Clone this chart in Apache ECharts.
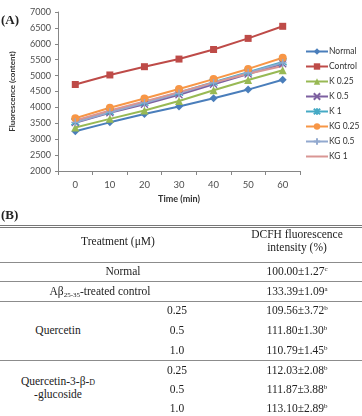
<!DOCTYPE html>
<html>
<head>
<meta charset="utf-8">
<script src="https://cdn.jsdelivr.net/npm/echarts@6/dist/echarts.min.js"></script>
<style>
body { margin: 0; width: 362px; height: 416px; position: relative; overflow: hidden; background: #fff; font-family: "Liberation Serif", serif; color: #222; }
#chart { position: absolute; left: 0; top: 0; width: 362px; height: 212px; }
.rule { position: absolute; left: 0; width: 362px; height: 0; border-top: 1px solid #8c8c8c; }
.t { position: absolute; white-space: nowrap; transform: translate(-50%, -50%); font-size: 11.5px; line-height: 12px; text-align: center; }
.t sup { font-size: 7px; line-height: 0; vertical-align: 4px; }
.t sub { font-size: 7px; line-height: 0; vertical-align: -2px; }
.lab { position: absolute; font-weight: bold; font-size: 13px; }
</style>
</head>
<body>
<div id="chart"></div>
<div id="table"></div>
<script>
// ---- chart (A) data ----
var times = ['0', '10', '20', '30', '40', '50', '60'];
var seriesNames = ['Normal', 'Control', 'K 0.25', 'K 0.5', 'K 1', 'KG 0.25', 'KG 0.5', 'KG 1'];
var normal  = [3250, 3530, 3790, 4030, 4290, 4560, 4870];
var control = [4720, 5020, 5280, 5520, 5820, 6170, 6550];
var k025    = [3370, 3640, 3900, 4200, 4540, 4860, 5170];
var k05     = [3520, 3830, 4100, 4400, 4730, 5050, 5370];
var k1      = [3550, 3870, 4160, 4470, 4790, 5110, 5430];
var kg025   = [3660, 3990, 4280, 4580, 4890, 5210, 5560];
var kg05    = [3530, 3850, 4140, 4440, 4770, 5090, 5400];
var kg1     = [3590, 3900, 4190, 4480, 4780, 5060, 5300];

// ---- table (B) data ----
var headTreatment = 'Treatment (μM)';
var headValue = ['DCFH fluorescence', 'intensity (%)'];
var groups = ['Normal', 'A&beta;<sub>25-35</sub>-treated control', 'Quercetin', 'Quercetin-3-&beta;-<span style="font-variant:small-caps">d</span><br>-glucoside'];
var concs = ['0.25', '0.5', '1.0'];
var intensity = ['100.00±1.27', '133.39±1.09', '109.56±3.72', '111.80±1.30', '110.79±1.45', '112.03±2.08', '111.87±3.88', '113.10±2.89'];
var letters = ['c', 'a', 'b', 'b', 'b', 'b', 'b', 'b'];

var colors = ['#4a7ebb', '#be4b48', '#98b954', '#7d60a0', '#46aac5', '#f79646', '#92a9cf', '#d99694'];
var symbols = ['diamond', 'rect', 'triangle', 'path://M0,0L10,10M10,0L0,10', 'path://M0,0L10,10M10,0L0,10M5,-1L5,11',
    'circle', 'path://M5,0L5,10M0,5L10,5', 'none'];
var sizes = [8, 7, 8, 7, 8, 8, 8, 0];
var allData = [normal, control, k025, k05, k1, kg025, kg05, kg1];

var myChart = echarts.init(document.getElementById('chart'));
var series = [];
var legendData = [];
for (var i = 0; i < seriesNames.length; i++) {
    series.push({
        name: seriesNames[i],
        type: 'line',
        data: allData[i],
        symbol: symbols[i],
        symbolSize: sizes[i],
        showAllSymbol: true,
        lineStyle: { color: colors[i], width: 2 },
        itemStyle: { color: colors[i], borderColor: colors[i], borderWidth: symbols[i].indexOf('path') === 0 ? 1.3 : 0 },
        emphasis: { disabled: true },
        animation: false
    });
    // plain line icon for the series without markers
    legendData.push(symbols[i] === 'none' ? { name: seriesNames[i], icon: 'path://M0,0h22v2h-22z' } : seriesNames[i]);
}

myChart.setOption({
    animation: false,
    textStyle: { fontFamily: 'Lato' },
    grid: { left: 50, right: 62, top: 12, bottom: 41 },
    legend: {
        orient: 'vertical',
        left: 300,
        top: 42,
        itemWidth: 22,
        itemHeight: 8,
        itemGap: 6,
        textStyle: { fontSize: 8.5, color: '#333', fontFamily: 'Lato', padding: [0, 0, 0, -4] },
        data: legendData
    },
    xAxis: {
        type: 'category',
        data: times,
        boundaryGap: true,
        name: 'Time (min)',
        nameLocation: 'middle',
        nameGap: 23,
        nameTextStyle: { fontSize: 9, fontWeight: 'bold', color: '#333' },
        axisLine: { lineStyle: { color: '#868686' } },
        axisTick: { show: true, length: 4, lineStyle: { color: '#868686' } },
        axisLabel: { fontSize: 9.5, color: '#4d4d4d', margin: 9 }
    },
    yAxis: {
        type: 'value',
        min: 2000,
        max: 7000,
        interval: 500,
        name: 'Fluorescence (content)',
        nameLocation: 'middle',
        nameGap: 42,
        nameTextStyle: { fontSize: 8, fontWeight: 'bold', color: '#333' },
        axisLine: { show: true, lineStyle: { color: '#868686' } },
        axisTick: { show: true, length: 3, lineStyle: { color: '#868686' } },
        splitLine: { show: false },
        axisLabel: { fontSize: 9, color: '#4d4d4d', margin: 7, formatter: function (v) { return String(v); } }
    },
    series: series
});

// ---- table (B) layout ----
var html = '';
html += '<div class="lab" style="left:1px;top:12px;">(A)</div>';
html += '<div class="lab" style="left:1px;top:207px;">(B)</div>';
html += '<div class="rule" style="top:225px;border-top:3px double #777;"></div>';
var rules = [262, 281, 301, 360];
rules.forEach(function (y) { html += '<div class="rule" style="top:' + y + 'px;"></div>'; });
html += '<div class="t" style="left:118px;top:241px;">' + headTreatment + '</div>';
html += '<div class="t" style="left:297px;top:234px;">' + headValue[0] + '</div>';
html += '<div class="t" style="left:297px;top:247px;">' + headValue[1] + '</div>';

var rowY = [271, 291, 310, 330, 350, 370, 389, 408];
html += '<div class="t" style="left:123px;top:' + rowY[0] + 'px;">' + groups[0] + '</div>';
html += '<div class="t" style="left:100px;top:' + rowY[1] + 'px;">' + groups[1] + '</div>';
html += '<div class="t" style="left:58px;top:' + rowY[3] + 'px;">' + groups[2] + '</div>';
html += '<div class="t" style="left:58px;top:' + (rowY[6] - 1) + 'px;line-height:13px;">' + groups[3] + '</div>';
for (var r = 2; r < 8; r++) {
    html += '<div class="t" style="left:177px;top:' + rowY[r] + 'px;">' + concs[(r - 2) % 3] + '</div>';
}
for (var j = 0; j < intensity.length; j++) {
    html += '<div class="t" style="left:297px;top:' + rowY[j] + 'px;">' + intensity[j] + '<sup>' + letters[j] + '</sup></div>';
}
document.getElementById('table').innerHTML = html;
</script>
</body>
</html>
